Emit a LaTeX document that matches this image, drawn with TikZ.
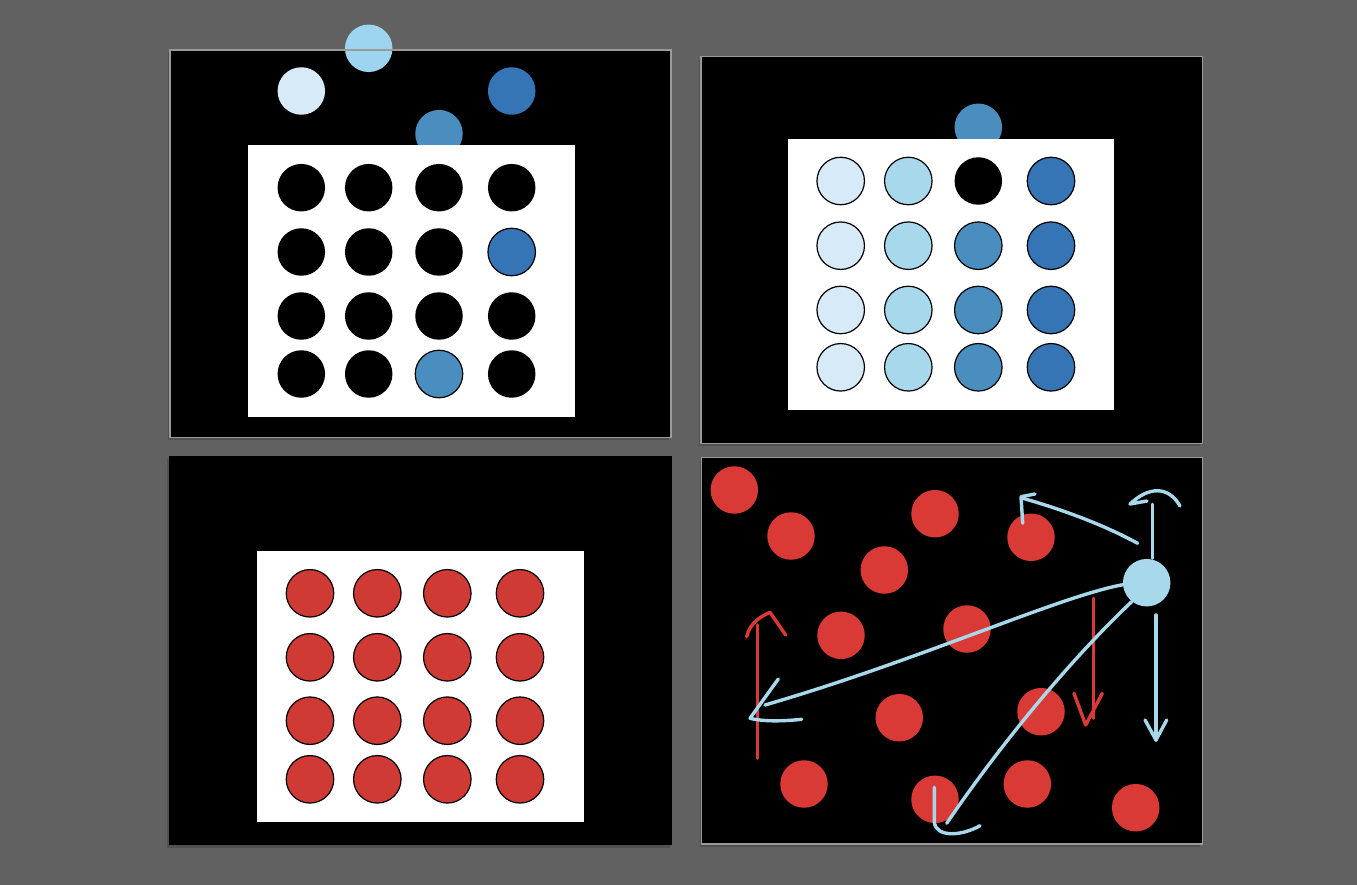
\documentclass[tikz,border=0pt]{standalone}
\usetikzlibrary{calc}
\definecolor{bgray}{HTML}{616161}
\definecolor{sgray}{HTML}{505050}
\definecolor{fgray}{HTML}{9A9A9A}
\definecolor{lightA}{HTML}{D6EAF8}
\definecolor{lightB}{HTML}{A8D8EC}
\definecolor{lightC}{HTML}{9DD5F0}
\definecolor{medB}{HTML}{4A8DBF}
\definecolor{darkB}{HTML}{3575B5}
\definecolor{redA}{HTML}{CF3A34}
\definecolor{redB}{HTML}{D93A35}
\tikzset{
  dot/.style={circle, minimum size=47.5pt, inner sep=0pt, outer sep=0pt},
  rimdot/.style={dot, draw=black, line width=1.2pt},
  panel/.style={fill=black},
  frame/.style={draw=fgray, line width=1.5pt},
  shadow/.style={fill=sgray},
  sheet/.style={fill=white},
  bstroke/.style={draw=lightB, line width=3.4pt, line cap=round, line join=round},
  rstroke/.style={draw=redB, line width=3.4pt, line cap=round, line join=round},
}
\begin{document}
\begin{tikzpicture}[x=1pt,y=-1pt]
\useasboundingbox[fill=bgray] (0,0) rectangle (1357,885);

% ---------------- Panel 1 ----------------
\fill[shadow] (168,53) rectangle (669,440);
\fill[panel] (170,50) rectangle (671,437.7);
\node[dot, fill=lightA] (p1a) at (301.3,91) {};
\node[dot, fill=lightC] (p1b) at (368.7,48.3) {};
\node[dot, fill=medB] (p1c) at (439,133.7) {};
\node[dot, fill=darkB] (p1d) at (511.7,91) {};
\draw[frame] (170,50) rectangle (671,437.7);
\fill[sheet] (248.3,145.3) rectangle (575,416.7);
\foreach \c/\x in {1/301.3,2/368.7,3/439,4/511.7}{
  \foreach \r/\y in {1/187.7,2/252,3/316,4/374}{
    \node[dot, fill=black] (p1g\r\c) at (\x,\y) {};
  }
}
\node[rimdot, fill=darkB] (p1x) at (511.7,252) {};
\node[rimdot, fill=medB] (p1y) at (439,374) {};

% ---------------- Panel 2 ----------------
\fill[shadow] (699,59.7) rectangle (1200.3,446.3);
\fill[panel] (701,56.7) rectangle (1202.3,443.3);
\draw[frame] (701,56.7) rectangle (1202.3,443.3);
\node[dot, fill=medB] (p2a) at (978.3,127.3) {};
\fill[sheet] (788.3,138.7) rectangle (1114.3,410);
\foreach \r/\y in {1/181,2/245.7,3/310,4/367.3}{
  \node[rimdot, fill=lightA] (p2g\r1) at (840.7,\y) {};
  \node[rimdot, fill=lightB] (p2g\r2) at (908.3,\y) {};
  \node[rimdot, fill=darkB] (p2g\r4) at (1051,\y) {};
}
\node[dot, fill=black] (p2g13) at (978.3,181) {};
\foreach \r/\y in {2/245.7,3/310,4/367.3}{
  \node[rimdot, fill=medB] (p2g\r3) at (978.3,\y) {};
}

% ---------------- Panel 3 ----------------
\fill[shadow] (167,459) rectangle (669.7,848);
\fill[panel] (169,456) rectangle (671.7,845);
\fill[sheet] (257.3,551) rectangle (583.7,822);
\foreach \c/\x in {1/310,2/377.3,3/447.3,4/520}{
  \foreach \r/\y in {1/593.3,2/657.3,3/720.7,4/779.3}{
    \node[rimdot, fill=redA] (p3g\r\c) at (\x,\y) {};
  }
}

% ---------------- Panel 4 ----------------
\fill[shadow] (699.7,460.7) rectangle (1200.3,847);
\fill[panel] (701.7,457.7) rectangle (1202.3,844);
\draw[frame] (701.7,457.7) rectangle (1202.3,844);
\foreach \i/\x/\y in {1/734.3/490, 2/791/536, 3/935/513.7, 4/1031/537.3,
  5/884.3/570, 6/841/635.3, 7/967/629, 8/899.3/717.7, 9/1041/711.7,
  10/804/784, 11/935/799.3, 12/1027.3/784, 13/1135.7/807.7}{
  \node[dot, fill=redB] (r\i) at (\x,\y) {};
}
\node[dot, fill=lightB] (hub) at (1146.7,582.7) {};

% red arrows
\coordinate (ra0) at (757.7,758.3);
\coordinate (ra1) at (757.7,625);
\draw[rstroke] (ra0) -- (ra1);
\draw[rstroke] (746.7,636.7) .. controls (750,622) and (762,616) .. (770,612.3) -- (785.7,635);
\coordinate (rb0) at (1093.3,598.3);
\coordinate (rb1) at (1093.3,718.3);
\draw[rstroke] (rb0) -- (rb1);
\draw[rstroke] (1074,693.3) -- (1085.7,725) -- (1102.3,693.3);

% blue strokes
\coordinate (ba1) at (1022,498);
\draw[bstroke] (1137.7,543.3) .. controls (1100,523) and (1060,509) .. (ba1);
\draw[bstroke] (1022.7,523.3) -- (1021,496.7) -- (1035,494);

\coordinate (bb1) at (1152.3,504.3);
\draw[bstroke] (1152.3,558.3) -- (bb1);
\draw[bstroke] (1147,501) -- (1130,504) .. controls (1148,487) and (1168,485) .. (1180,506);

\coordinate (bc1) at (765,705);
\draw[bstroke] (hub.west) ++(0,2) .. controls (1060,596) and (920,660) .. (bc1);
\draw[bstroke] (778.3,679) -- (750,718.3) .. controls (765,722) and (785,721) .. (801.7,719.3);

\coordinate (bd1) at (946.7,823.3);
\draw[bstroke] (1131.7,601.7) .. controls (1070,660) and (1000,745) .. (bd1);
\draw[bstroke] (934.3,787.3) -- (934.3,822) .. controls (936,838) and (962,836) .. (980,825.7);

\coordinate (be0) at (1156,615);
\coordinate (be1) at (1156,740);
\draw[bstroke] (be0) -- (be1);
\draw[bstroke] (1145,720) -- (be1) -- (1166.7,720);
\end{tikzpicture}
\end{document}
